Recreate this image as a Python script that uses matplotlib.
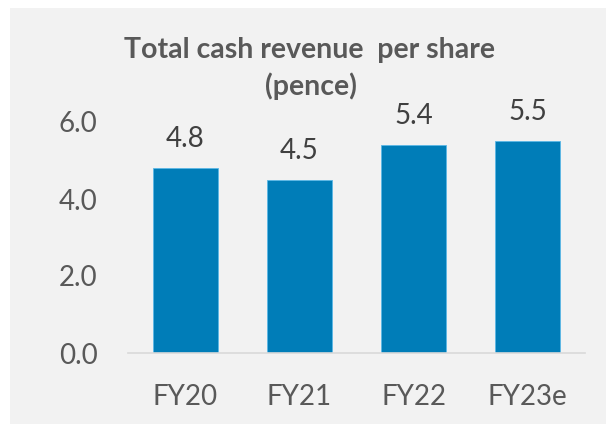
"""Total cash revenue per share bar chart."""

import matplotlib.pyplot as plt
import numpy as np

CATEGORIES = ["FY20", "FY21", "FY22", "FY23e"]
VALUES = [4.8, 4.5, 5.4, 5.5]
Y_TICKS = [0.0, 2.0, 4.0, 6.0]

BAR_COLOR = "#007DB8"
TEXT_COLOR = "#595959"
LABEL_COLOR = "#404040"
BG_COLOR = "#F2F2F2"

W, H = 606, 424

plt.rcParams["font.family"] = ["Lato", "DejaVu Sans"]

fig = plt.figure(figsize=(W / 100, H / 100), dpi=100)
fig.patch.set_facecolor("white")

# grey chart area with a thin white margin on top and left
bg = fig.add_axes([10 / W, 0, 1 - 10 / W, 1 - 8 / H], zorder=0)
bg.set_axis_off()
bg.add_patch(plt.Rectangle((0, 0), 1, 1, transform=bg.transAxes,
                           facecolor=BG_COLOR, edgecolor="none"))

ax = fig.add_axes([128 / W, (H - 353) / H, 457 / W, 231 / H], zorder=1)
ax.set_facecolor("none")

x = np.arange(len(CATEGORIES))
ax.bar(x, VALUES, width=0.57, color=BAR_COLOR,
       edgecolor="#5BB8E6", linewidth=0.6)

for xi, v in zip(x, VALUES):
    ax.annotate(f"{v:.1f}", (xi, v), xytext=(0, 15), textcoords="offset points",
                ha="center", va="baseline", fontsize=20, color=LABEL_COLOR,
                annotation_clip=False)

ax.set_xlim(-0.5, len(CATEGORIES) - 0.5)
ax.set_ylim(0, 6.0)
ax.set_xticks(x)
ax.set_xticklabels(CATEGORIES)
ax.set_yticks(Y_TICKS)
ax.set_yticklabels([f"{t:.1f}" for t in Y_TICKS])
ax.tick_params(axis="both", length=0, labelsize=20, colors=TEXT_COLOR)
ax.tick_params(axis="x", pad=22)
ax.tick_params(axis="y", pad=22)

for side in ["top", "right", "left"]:
    ax.spines[side].set_visible(False)
ax.spines["bottom"].set_color("#D9D9D9")
ax.spines["bottom"].set_linewidth(1.2)

fig.text(310 / W, 1 - 58 / H, "Total cash revenue  per share",
         ha="center", va="baseline", fontsize=20.5, fontweight="bold",
         color=TEXT_COLOR, zorder=2)
fig.text(311 / W, 1 - 95 / H, "(pence)",
         ha="center", va="baseline", fontsize=20.5, fontweight="bold",
         color=TEXT_COLOR, zorder=2)

fig.savefig("out.png", dpi=100, facecolor=fig.get_facecolor())
